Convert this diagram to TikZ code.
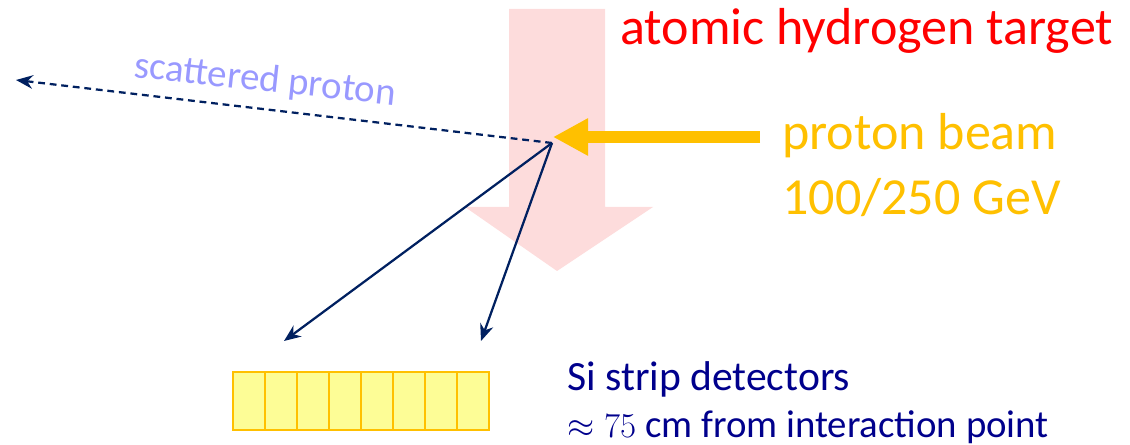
\documentclass[tikz,border=0pt]{standalone}
\usepackage{fontspec}
\setmainfont{Carlito}
\usetikzlibrary{arrows.meta,positioning}
\definecolor{tgtpink}{RGB}{253,220,220}
\definecolor{beamgold}{RGB}{255,192,0}
\definecolor{trknavy}{RGB}{0,32,96}
\definecolor{lblnavy}{RGB}{0,0,140}
\definecolor{scatblue}{RGB}{153,153,255}
\definecolor{cellyel}{RGB}{253,253,150}
\tikzset{
  % texts
  lbl/.style={inner sep=0pt,anchor=base west},
  % tracks
  track/.style={trknavy,line width=1.6pt,-{Stealth[length=0.42cm,width=0.34cm]}},
  scat/.style={track,dash pattern=on 0.17cm off 0.12cm},
  % beam
  beam/.style={beamgold,line width=0.3cm,-{Triangle[length=0.88cm,width=0.88cm]}},
  % detector strips
  cell/.style={draw=beamgold,fill=cellyel,line width=1.3pt,minimum width=0.8cm,minimum height=1.45cm,inner sep=0pt,anchor=north west},
}
\begin{document}
\begin{tikzpicture}[x=0.025cm,y=-0.025cm]
\useasboundingbox (0,0) rectangle (1130,445);

%% ===== atomic hydrogen target (big arrow) =====
\fill[tgtpink] (509,9) -- (605,9) -- (605,207) -- (653,207) -- (557,271)
  -- (465,207) -- (509,207) -- cycle;
\node[lbl,red,font=\fontsize{37}{40}\selectfont] (tgt) at (620,45) {atomic hydrogen target};

%% ===== proton beam =====
\coordinate (ip) at (552,143);
\coordinate (beamin) at (760,137);
\draw[beam] (beamin) -- (553,137);
\node[lbl,beamgold,font=\fontsize{37}{40}\selectfont] (pb) at (782,150) {proton beam};
\node[lbl,beamgold,font=\fontsize{37}{40}\selectfont] (pe) at (782,215) {100/250 GeV};

%% ===== scattered proton and recoils =====
\coordinate (out) at (16,80);
\draw[scat] (ip) -- (out);
\node[lbl,scatblue,rotate=-6.2,font=\fontsize{27.7}{30}\selectfont] (sp) at (133,77) {scattered proton};
\coordinate (hitA) at (284,341);
\coordinate (hitB) at (481,341);
\draw[track] (ip) -- (hitA);
\draw[track] (ip) -- (hitB);

%% ===== Si strip detectors =====
\foreach \i in {0,...,7}
  \node[cell] (d\i) at (232+32*\i,371) {};
\node[lbl,lblnavy,font=\fontsize{29.6}{32}\selectfont] (si) at (567,390) {Si strip detectors};
\node[lbl,lblnavy,font=\fontsize{27.6}{30}\selectfont] (dist) at (567,437) {$\approx 75\ \mathrm{cm}$ from interaction point};
\end{tikzpicture}
\end{document}
